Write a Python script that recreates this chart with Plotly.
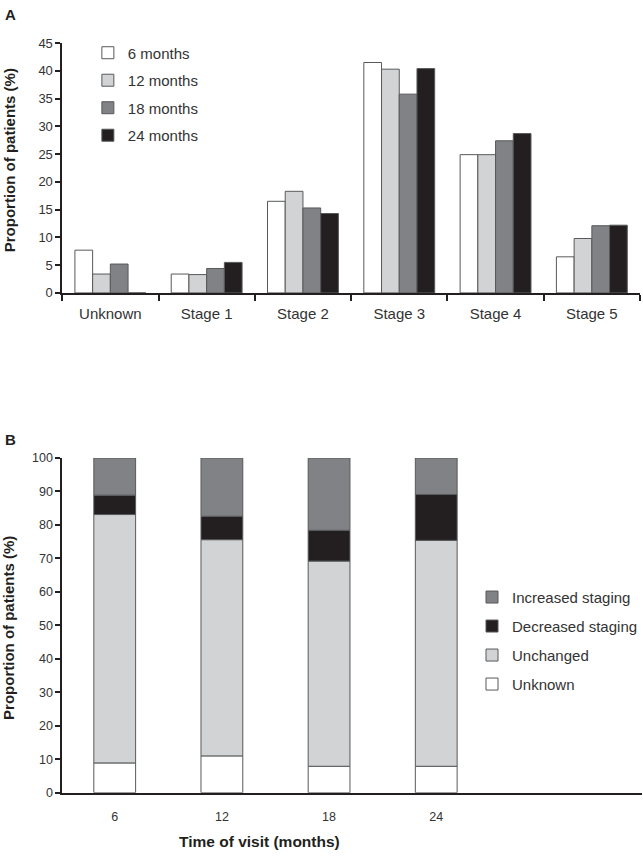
import plotly.graph_objects as go

# ---- Panel A data ----
stages = ["Unknown", "Stage 1", "Stage 2", "Stage 3", "Stage 4", "Stage 5"]
m6 = [7.7, 3.4, 16.5, 41.5, 24.9, 6.5]
m12 = [3.4, 3.3, 18.3, 40.3, 24.9, 9.8]
m18 = [5.2, 4.4, 15.3, 35.8, 27.4, 12.1]
m24 = [0.0, 5.5, 14.3, 40.4, 28.7, 12.2]
series_a_names = ["6 months", "12 months", "18 months", "24 months"]

# ---- Panel B data ----
visits = ["6", "12", "18", "24"]
unknown_b = [8.9, 11.0, 7.9, 7.9]
unchanged_b = [74.2, 64.6, 61.3, 67.5]
decreased_b = [5.8, 7.0, 9.2, 13.7]
increased_b = [11.1, 17.4, 21.6, 10.9]
series_b_names = ["Unknown", "Unchanged", "Decreased staging", "Increased staging"]

WHITE = "#ffffff"
LIGHT = "#d1d3d4"
MID = "#808285"
DARK = "#231f20"
EDGE = "#58595b"
TXT = "#333333"
FONT = "Liberation Sans, Arial, sans-serif"

W, H = 643, 858
fig = go.Figure()

colors_a = [WHITE, LIGHT, MID, DARK]
for name, vals, col in zip(series_a_names, [m6, m12, m18, m24], colors_a):
    fig.add_trace(go.Bar(
        x=stages, y=vals, name=name, marker_color=col,
        marker_line_color=EDGE, marker_line_width=1,
        xaxis="x", yaxis="y", legend="legend", legendgroup=name,
    ))

colors_b = [WHITE, LIGHT, DARK, MID]
ranks_b = [4, 3, 2, 1]
bases = [0.0] * len(visits)
for name, vals, col, rk in zip(series_b_names, [unknown_b, unchanged_b, decreased_b, increased_b], colors_b, ranks_b):
    fig.add_trace(go.Bar(
        x=visits, y=vals, base=list(bases), name=name, marker_color=col,
        marker_line_color=EDGE, marker_line_width=1, width=0.39,
        offsetgroup="b", alignmentgroup="b",
        xaxis="x2", yaxis="y2", legend="legend2", legendgroup=name, legendrank=rk,
    ))
    bases = [b + v for b, v in zip(bases, vals)]


def px_x(p):
    return p / W


def px_y(p):
    return (H - p) / H


axis_common = dict(
    showgrid=False, zeroline=False, showline=True, linecolor="#231f20", linewidth=1.5,
    tickfont=dict(family=FONT, size=13, color=TXT), ticks="outside", tickcolor="#231f20",
)

fig.update_layout(
    width=W, height=H, margin=dict(l=0, r=0, t=0, b=0),
    paper_bgcolor="white", plot_bgcolor="white",
    barmode="group", bargap=0.264, bargroupgap=0,
    font=dict(family=FONT, color=TXT),
    xaxis=dict(axis_common, domain=[px_x(62.3), px_x(641)], anchor="y",
               type="category", tickson="boundaries", ticklen=6, tickwidth=1.5,
               ticklabelstandoff=6,
               tickfont=dict(family=FONT, size=15, color=TXT)),
    yaxis=dict(axis_common, domain=[px_y(291), px_y(36.7)], anchor="x",
               range=[0, 45], tickvals=list(range(0, 46, 5)), ticklen=5, tickwidth=1.5),
    xaxis2=dict(axis_common, domain=[px_x(62.3), 1.0], anchor="y2",
                type="category", range=[-0.49, 4.92], ticks="", ticklabelstandoff=12,
                tickfont=dict(family=FONT, size=12.5, color=TXT)),
    yaxis2=dict(axis_common, domain=[px_y(799.7), px_y(459)], anchor="x2",
                range=[0, 100], tickvals=list(range(0, 101, 10)), ticklen=5, tickwidth=1.5,
                tickfont=dict(family=FONT, size=12.5, color=TXT)),
    legend=dict(x=px_x(88), y=px_y(30), xanchor="left", yanchor="top",
                font=dict(family=FONT, size=15, color=TXT), traceorder="grouped",
                tracegroupgap=5, bgcolor="rgba(0,0,0,0)"),
    legend2=dict(x=px_x(473), y=px_y(584), xanchor="left", yanchor="top",
                 font=dict(family=FONT, size=15, color=TXT), traceorder="grouped",
                 tracegroupgap=6.5, bgcolor="rgba(0,0,0,0)"),
)

annots = [
    dict(text="<b>A</b>", x=px_x(3), y=px_y(8), xanchor="left", yanchor="middle", font=dict(size=15, color="#231f20")),
    dict(text="<b>B</b>", x=px_x(3), y=px_y(440), xanchor="left", yanchor="middle", font=dict(size=15, color="#231f20")),
    dict(text="<b>Proportion of patients (%)</b>", x=px_x(9), y=px_y(156), textangle=-90,
         xanchor="center", yanchor="middle", font=dict(size=15, color="#231f20")),
    dict(text="<b>Proportion of patients (%)</b>", x=px_x(9), y=px_y(632), textangle=-90,
         xanchor="center", yanchor="middle", font=dict(size=15, color="#231f20")),
    dict(text="<b>Time of visit (months)</b>", x=px_x(260), y=px_y(849), xanchor="center",
         yanchor="middle", font=dict(size=15.5, color="#231f20")),
]
for a in annots:
    a.update(xref="paper", yref="paper", showarrow=False)
    a["font"]["family"] = FONT
fig.update_layout(annotations=annots)

fig.write_html(
    "out.html",
    config={"displayModeBar": False},
    post_script="document.body.style.margin='0';document.body.style.overflow='hidden';",
)
